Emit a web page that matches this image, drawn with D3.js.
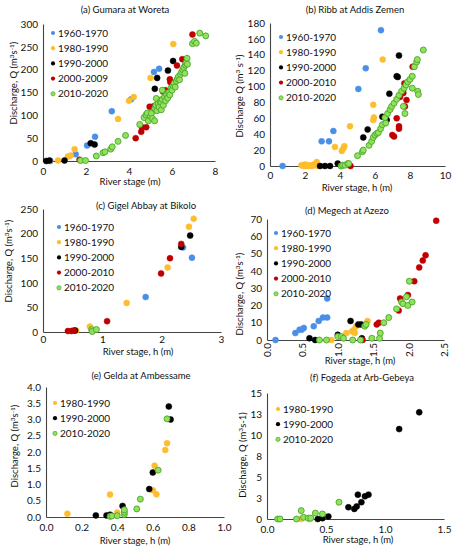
<!DOCTYPE html>
<html><head><meta charset="utf-8">
<script src="https://cdn.jsdelivr.net/npm/d3@7"></script>
<style>
body{margin:0;background:#fff;}
svg{display:block;font-family:Lato,"Open Sans",sans-serif;}
</style></head><body>
<svg id="c" width="455" height="550"></svg>
<script>
// ---------- DATA ----------
// (a) Gumara at Woreta
const aBlue=[[0.34,0],[1.52,15],[2.05,34],[2.42,53],[3.2,109],[4.1,135],[5.16,195],[5.4,202]];
const aYellow=[[0.3,0],[0.7,1],[1.16,10],[1.29,12],[1.47,26],[3.49,92],[4.0,132],[4.22,140],[5.0,182],[6.06,256]];
const aBlack=[[0.15,0],[0.3,1],[1.0,1],[2.22,39],[2.4,36],[5.2,158],[5.31,182],[5.81,198],[6.05,219]];
const aRed=[[1.7,3],[4.31,50],[4.57,64],[4.6,74],[4.8,74],[4.76,96],[4.96,119],[5.15,120],[5.2,112],[5.35,134],[5.58,152],[5.69,155],[5.9,179],[5.92,173],[6.23,209],[6.48,223],[6.95,277]];
const aGreen=[[1.75,1],[1.98,1],[2.48,11],[2.79,18],[2.88,20],[3.15,26],[3.22,31],[3.49,43],[3.84,56],[4.5,80],[4.7,95],[4.79,101],[4.85,105],[4.9,88],[5.0,98],[5.04,104],[5.09,93],[5.19,88],[5.2,115],[5.25,122],[5.27,137],[5.3,110],[5.35,125],[5.4,118],[5.45,130],[5.5,128],[5.5,112],[5.55,135],[5.55,155],[5.6,122],[5.65,140],[5.7,132],[5.75,145],[5.8,138],[5.85,150],[5.9,145],[5.95,160],[6.0,155],[6.05,165],[6.1,170],[6.15,162],[6.2,175],[6.25,180],[6.3,185],[6.35,178],[6.4,190],[6.45,195],[6.5,200],[6.55,205],[6.6,192],[6.62,210],[6.65,215],[6.7,225],[6.72,212],[6.95,257],[7.05,262],[7.13,258],[7.29,280],[7.57,274]];
// (b) Ribb at Addis Zemen
const bBlue=[[0.72,0],[2.95,31],[3.37,31],[3.62,44],[5.05,97],[5.47,123],[6.34,171]];
const bYellow=[[1.8,1],[1.9,0],[2.0,2],[2.05,0],[2.15,1],[2.2,0],[2.3,1],[2.4,0],[2.5,2],[2.6,1],[2.67,5],[2.75,0],[3.71,24],[4.1,19],[4.19,22],[4.25,25],[4.57,50],[5.9,77],[5.9,58],[5.94,61],[6.44,134]];
const bBlack=[[2.86,0],[3.14,0],[3.43,0],[3.87,3],[5.33,36],[5.58,46],[6.42,62],[6.67,58],[6.82,91],[7.24,113],[7.3,112],[7.37,139]];
const bRed=[[4.6,0],[6.99,39],[7.09,37],[7.24,60],[7.37,50],[7.37,47],[7.43,87],[7.62,92],[7.68,104],[7.71,75],[7.8,83],[8.15,125]];
const bGreen=[[4.06,0],[4.15,1],[4.29,1],[4.44,3],[4.5,3],[5.0,13],[5.28,18],[5.33,20],[5.66,26],[5.81,31],[5.9,36],[6.0,39],[6.1,41],[6.19,42],[6.32,47],[6.42,52],[6.61,54],[6.57,61],[6.72,66],[6.86,71],[6.95,75],[7.09,79],[7.24,84],[7.37,89],[7.52,94],[7.62,75],[7.66,98],[7.71,66],[7.77,102],[7.87,106],[8.0,109],[8.13,98],[8.13,113],[8.25,125],[8.38,131],[8.42,134],[8.44,94],[8.48,90],[8.76,146]];
// (c) Gigel Abbay at Bikolo
const cBlue=[[1.73,71],[2.36,172],[2.51,151]];
const cYellow=[[0.56,3],[0.79,11],[1.41,59],[2.1,131],[2.46,214],[2.54,230]];
const cBlack=[[0.54,3],[2.33,173],[2.48,196]];
const cRed=[[0.42,2],[0.48,2],[0.52,3],[1.08,22],[1.99,119],[2.14,150],[2.33,179]];
const cGreen=[[0.82,5],[0.83,1],[0.9,5]];
// (d) Megech at Azezo
const dBlue=[[0.12,0],[0.4,4],[0.46,6],[0.49,6],[0.52,7],[0.66,8],[0.73,11],[0.79,13],[0.85,13],[0.85,24]];
const dYellow=[[0.91,0],[1.12,4],[1.2,5],[1.23,6],[1.24,4],[1.26,8],[1.39,9],[1.42,11]];
const dBlack=[[0.6,1],[0.68,0],[1.0,3],[1.18,11],[1.29,9],[1.33,9],[1.34,1]];
const dRed=[[1.35,0],[1.55,9],[1.58,10],[1.86,17],[1.88,24],[1.99,26],[2.08,34],[2.15,42],[2.2,46],[2.24,49],[2.39,69]];
const dGreen=[[0.74,0],[0.84,0],[1.0,2],[1.05,2],[1.08,1],[1.21,0],[1.32,0],[1.38,8],[1.4,9],[1.48,1],[1.59,1],[1.6,4],[1.65,10],[1.72,13],[1.83,18],[1.9,22],[1.92,21],[1.97,25],[1.99,20],[2.01,34],[2.05,22]];
// (e) Gelda at Ambessame
const eYellow=[[0.12,0.1],[0.36,0.69],[0.4,0.14],[0.6,0.82],[0.62,0.7],[0.61,1.58],[0.67,2.06],[0.68,2.27]];
const eBlack=[[0.28,0.05],[0.34,0.05],[0.36,0.07],[0.43,0.34],[0.58,0.86],[0.6,1.37],[0.69,3.4],[0.7,3.0]];
const eGreen=[[0.36,0.02],[0.37,0.03],[0.4,0.04],[0.44,0.08],[0.44,0.15],[0.44,0.22],[0.51,0.25],[0.53,0.55],[0.63,1.44],[0.68,3.02]];
// (f) Fogeda at Arb-Gebeya
const fYellow=[[0.29,0],[0.36,0]];
const fBlack=[[0.43,0],[0.47,0.1],[0.52,0.3],[0.69,1.4],[0.74,1.2],[0.76,1.5],[0.77,2.9],[0.8,2.0],[0.83,2.7],[0.86,2.9],[1.12,10.7],[1.29,12.7]];
const fGreen=[[0.09,0],[0.11,0],[0.25,0],[0.29,1.0],[0.31,0.2],[0.35,0.1],[0.37,0.1],[0.41,0.7],[0.47,0.6],[0.61,2.0]];
// tick values
const aXTicks=[0,2,4,6,8], aYTicks=[0,50,100,150,200,250,300];
const bXTicks=[0,2,4,6,8,10], bYTicks=[0,20,40,60,80,100,120,140,160,180];
const cXTicks=[0,1,2,3], cYTicks=[0,50,100,150,200,250];
const dXTicks=[0,0.5,1,1.5,2,2.5], dYTicks=[0,10,20,30,40,50,60,70];
const eXTicks=[0,0.2,0.4,0.6,0.8,1.0], eYTicks=[0,0.5,1,1.5,2,2.5,3,3.5,4];
const fXTicks=[0,0.5,1,1.5], fYTicks=[0,2.5,5,7.5,10,12.5,15];
// labels
const periods5=["1960-1970","1980-1990","1990-2000","2000-2010","2010-2020"];
const periodsA=["1960-1970","1980-1990","1990-2000","2000-2009","2010-2020"];
const periods3=["1980-1990","1990-2000","2010-2020"];

// ---------- STYLE ----------
const COL={blue:{f:"#4a8fe7",s:"#4a8fe7"},yellow:{f:"#fdbd2c",s:"#fdbd2c"},black:{f:"#000",s:"#000"},red:{f:"#c00000",s:"#c00000"},green:{f:"#8fe25a",s:"#4ca52e"}};

const panels=[
 {title:"(a) Gumara at Woreta",tx:125,ty:13,x0:43,x1:215,yb:161,yt:24,xd:[0,8],yd:[0,300],xt:aXTicks,yt2:aYTicks,xf:d3.format("d"),yf:d3.format("d"),
  series:[[aBlue,"blue"],[aYellow,"yellow"],[aBlack,"black"],[aRed,"red"],[aGreen,"green"]],leg:periodsA,legC:["blue","yellow","black","red","green"],lx:53,ly:33,
  xl:"River stage (m)",xlx:130,xly:185,yl:["Discharge, Q (m","3","s","-1",")"],ylx:14,yly:83,xtOff:14},
 {title:"(b) Ribb at Addis Zemen",tx:355,ty:13,x0:270,x1:445,yb:166,yt:23,xd:[0,10],yd:[0,180],xt:bXTicks,yt2:bYTicks,xf:d3.format("d"),yf:d3.format("d"),
  series:[[bBlue,"blue"],[bYellow,"yellow"],[bBlack,"black"],[bRed,"red"],[bGreen,"green"]],leg:periods5,legC:["blue","yellow","black","red","green"],lx:281,ly:37,
  xl:"River stage, h (m)",xlx:357,xly:191,yl:["Discharge Q (m","3"," s","-1",")"],ylx:240,yly:96,xtOff:13},
 {title:"(c) Gigel Abbay at Bikolo",tx:146,ty:209,x0:43,x1:221,yb:332,yt:209,xd:[0,3],yd:[0,250],xt:cXTicks,yt2:cYTicks,xf:d3.format("d"),yf:d3.format("d"),
  series:[[cBlue,"blue"],[cYellow,"yellow"],[cBlack,"black"],[cRed,"red"],[cGreen,"green"]],leg:periods5,legC:["blue","yellow","black","red","green"],lx:59,ly:227,
  xl:"River stage, h (m)",xlx:138,xly:355,yl:["Discharge, Q (m","3","s","-1",")"],ylx:9,yly:261,xtOff:11},
 {title:"(d) Megech at Azezo",tx:347,ty:214,x0:267,x1:444,yb:340,yt:219,xd:[0,2.5],yd:[0,70],xt:dXTicks,yt2:dYTicks,xf:d3.format(".1f"),yf:d3.format("d"),rot:true,
  series:[[dBlue,"blue"],[dYellow,"yellow"],[dBlack,"black"],[dRed,"red"],[dGreen,"green"]],leg:periods5,legC:["blue","yellow","black","red","green"],lx:276,ly:233,
  xl:"River stage, h (m)",xlx:360,xly:364,yl:["Discharge, Q (m","3","s","-1",")"],ylx:240,yly:294,xtOff:12},
 {title:"(e) Gelda at Ambessame",tx:141,ty:379,x0:46,x1:224,yb:517,yt:387,xd:[0,1],yd:[0,4],xt:eXTicks,yt2:eYTicks,xf:d3.format(".1f"),yf:d3.format(".1f"),
  series:[[eYellow,"yellow"],[eBlack,"black"],[eGreen,"green"]],leg:periods3,legC:["yellow","black","green"],lx:55,ly:403,
  xl:"River stage, h (m)",xlx:135,xly:544,yl:["Discharge, Q (m","3","s","-1",")"],ylx:15,yly:446,xtOff:14},
 {title:"(f) Fogeda at Arb-Gebeya",tx:362,ty:381,x0:267,x1:444,yb:519,yt:393,xd:[0,1.5],yd:[0,15],xt:fXTicks,yt2:fYTicks,xf:d3.format(".1f"),yf:d3.format(".0f"),
  series:[[fYellow,"yellow"],[fBlack,"black"],[fGreen,"green"]],leg:periods3,legC:["yellow","black","green"],lx:278,ly:409,
  xl:"River stage, h (m)",xlx:358,xly:543,yl:["Discharge, Q (m","3","s-1)"],ylx:243,yly:455,xtOff:14,plainY:true}
];

const svg=d3.select("#c");
const AX="#444";
panels.forEach(p=>{
  const g=svg.append("g");
  const x=d3.scaleLinear().domain(p.xd).range([p.x0,p.x1]);
  const y=d3.scaleLinear().domain(p.yd).range([p.yb,p.yt]);
  // axes
  const xa=g.append("g").attr("transform",`translate(0,${p.yb})`).call(d3.axisBottom(x).tickValues(p.xt).tickFormat(p.xf).tickSize(0).tickPadding(p.xtOff-7));
  const ya=g.append("g").attr("transform",`translate(${p.x0},0)`).call(d3.axisLeft(y).tickValues(p.yt2).tickFormat(p.yf).tickSize(0).tickPadding(5));
  [xa,ya].forEach(a=>{a.select(".domain").attr("stroke",AX).attr("stroke-width",1.1);
    a.selectAll("text").attr("font-family","Lato,'Open Sans',sans-serif").attr("font-size",10).attr("fill","#111");});
  if(p.rot){
    xa.selectAll("text").attr("transform","rotate(-90)").attr("text-anchor","end").attr("dy","0.35em").attr("x",-3).attr("y",0);
  }
  // points
  p.series.forEach(([data,c])=>{
    g.append("g").selectAll("circle").data(data).join("circle")
      .attr("cx",d=>x(d[0])).attr("cy",d=>y(d[1])).attr("r",3)
      .attr("fill",COL[c].f).attr("stroke",COL[c].s).attr("stroke-width",c==="green"?0.9:0.5);
  });
  // title
  g.append("text").attr("x",p.tx).attr("y",p.ty).attr("text-anchor","middle").attr("font-size",9.5).attr("fill","#111").text(p.title);
  // legend
  p.leg.forEach((l,i)=>{
    const c=p.legC[i];
    g.append("circle").attr("cx",p.lx).attr("cy",p.ly+i*15.2).attr("r",2.1).attr("fill",COL[c].f).attr("stroke",COL[c].s).attr("stroke-width",c==="green"?0.7:0);
    g.append("text").attr("x",p.lx+5).attr("y",p.ly+i*15.2).attr("dy","0.35em").attr("font-size",10).attr("fill","#111").text(l);
  });
  // x label
  g.append("text").attr("x",p.xlx).attr("y",p.xly).attr("text-anchor","middle").attr("font-size",9.5).attr("fill","#111").text(p.xl);
  // y label
  const t=g.append("text").attr("transform",`translate(${p.ylx},${p.yly}) rotate(-90)`).attr("text-anchor","middle").attr("dy","0.35em").attr("font-size",9.5).attr("fill","#111");
  p.yl.forEach((s,i)=>{
    const sup=(i%2===1);
    t.append("tspan").attr("font-size",sup?6.5:9.5).attr("baseline-shift",sup?"super":"baseline").text(s);
  });
});
</script></body></html>
